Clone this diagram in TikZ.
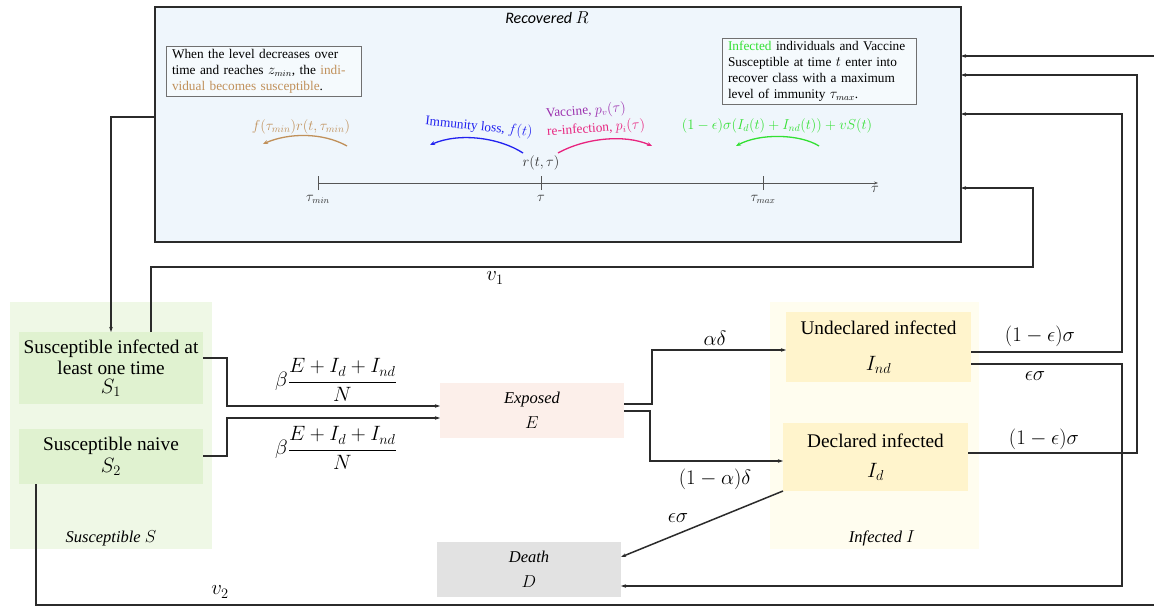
\documentclass[tikz,border=0pt]{standalone}
\usepackage{fontspec}
\setmainfont{Liberation Serif}
\newfontfamily\calib{Carlito}
\usetikzlibrary{arrows.meta}
\definecolor{lc}{HTML}{2B2B2B}
\definecolor{rfill}{HTML}{EFF6FC}
\definecolor{sgfill}{HTML}{EFF8E6}
\definecolor{sfill}{HTML}{E0F2D0}
\definecolor{igfill}{HTML}{FFFDEF}
\definecolor{ifill}{HTML}{FFF4CC}
\definecolor{efill}{HTML}{FCEFEA}
\definecolor{dfill}{HTML}{E2E2E2}
\definecolor{tbgray}{HTML}{707070}
\definecolor{brn}{HTML}{C0905A}
\definecolor{blu}{HTML}{2222F0}
\definecolor{pur}{HTML}{9B2FAE}
\definecolor{mag}{HTML}{E8247F}
\definecolor{grn}{HTML}{33E033}
\begin{document}
\begin{tikzpicture}[x=1pt,y=-1pt,
  line/.style={draw=lc, line width=1.5},
  arr/.style={line, -{Stealth[length=5,width=3.5]}},
  carr/.style={line width=1.3, -{Stealth[length=5,width=4]}},
  blk/.style={inner sep=0, outer sep=0, draw=none, align=center},
  big/.style={font=\fontsize{19.3}{24}\selectfont},
  mth/.style={font=\fontsize{21.5}{24}\selectfont},
  ital/.style={font=\fontsize{16.5}{25}\selectfont\itshape},
  small/.style={font=\fontsize{13.3}{16}\selectfont},
  tbox/.style={draw=tbgray, line width=0.9, fill=white!40!rfill, inner xsep=6, inner ysep=3, align=left, small}
]
\useasboundingbox[fill=white] (0,0) rectangle (1154,607);

% Recovered box
\node[blk, draw=lc, line width=1.8, fill=rfill, minimum width=806, minimum height=235] (R) at (558,124.5) {};
\node[font=\fontsize{16}{18}\selectfont\calib\itshape] (Rlab) at (547,18) {Recovered $R$};
\node[tbox, text width=183] (TL) at (263.5,71.5) {When the level decreases over\\ time and reaches $z_{min}$, the \textcolor{brn}{indi-}\\ \textcolor{brn}{vidual becomes susceptible}.};
\node[tbox, text width=182] (TR) at (819,71.5) {\textcolor{grn}{Infected} individuals and Vaccine\\ Susceptible at time $t$ enter into\\ recover class with a maximum\\ level of immunity $\tau_{max}$.};

% axis
\coordinate (a0) at (318,183);
\coordinate (a1) at (541,183);
\coordinate (a2) at (763,183);
\coordinate (aend) at (878,183);
\draw[draw=lc!80, line width=0.9, -{Stealth[length=4,width=3]}] (a0) -- (aend);
\foreach \c in {a0,a1,a2}{\draw[draw=lc!80, line width=0.9] ([yshift=-7pt]\c) -- ([yshift=7pt]\c);}
\node[small, text=lc] (tmin) at (318,199) {$\tau_{min}$};
\node[small, text=lc] (tt) at (541,198) {$\tau$};
\node[small, text=lc] (tmax) at (763,199) {$\tau_{max}$};
\node[small, text=lc] (tend) at (875,189) {$\tau$};
\node[small, text=lc] (rtt) at (541,163) {$r(t,\tau)$};

% curved arrows
\draw[brn, carr] (347,146) .. controls (322,132) and (288,133) .. (263,144);
\node[small, text=brn, font=\fontsize{14}{16}\selectfont] (fl) at (301,127) {$f(\tau_{min})r(t,\tau_{min})$};
\draw[blu, carr] (523,153) .. controls (500,138) and (460,132) .. (430,145);
\node[small, text=blu, rotate=-6] (il) at (479,127) {Immunity loss, $f(t)$};
\draw[mag, carr] (558,153) .. controls (585,138) and (625,134) .. (652,146);
\node[small, text=pur, rotate=4, anchor=west, inner sep=1] (vac1) at (545,114) {Vaccine, $p_v(\tau)$};
\node[small, text=mag, rotate=4, anchor=west, inner sep=1] (vac2) at (546,132) {re-infection, $p_i(\tau)$};
\draw[grn, carr] (819,146) .. controls (800,134) and (760,133) .. (736,146);
\node[small, text=grn, font=\fontsize{14}{16}\selectfont] (gf) at (777,126) {$(1-\epsilon)\sigma(I_d(t)+I_{nd}(t))+vS(t)$};

% Susceptible group
\node[blk, fill=sgfill, minimum width=202, minimum height=247] (Sg) at (111,425.5) {};
\node[blk, fill=sfill, minimum width=184, minimum height=72, big] (S1) at (111,368) {Susceptible infected at\\[-3pt] least one time\\[-5pt] $S_1$};
\node[blk, fill=sfill, minimum width=184, minimum height=55, big] (S2) at (111,456.5) {Susceptible naive\\[-2pt] $S_2$};
\node[ital] (Sglab) at (111,538) {Susceptible $S$};

% Infected group
\node[blk, fill=igfill, minimum width=209, minimum height=247] (Ig) at (874.5,425.5) {};
\node[blk, fill=ifill, minimum width=185, minimum height=70, big] (Ind) at (878.5,347) {Undeclared infected\\[12pt] $I_{nd}$};
\node[blk, fill=ifill, minimum width=185, minimum height=68, big] (Id) at (875.5,457) {Declared infected\\[6pt] $I_d$};
\node[ital] (Iglab) at (882,538) {Infected $I$};

% Exposed, Death
\node[blk, fill=efill, minimum width=184, minimum height=55, ital] (E) at (532,410.5) {Exposed\\ $E$};
\node[blk, fill=dfill, minimum width=184, minimum height=55, ital] (D) at (529,569.5) {Death\\ $D$};

% connectors
\draw[arr] (R.west |- 0,117) -| (S1.north);
\draw[arr] (S1.north -| 151,0) |- (1033,267) |- (R.east |- 0,188);
\node[mth] (v1) at (495,278) {$v_1$};
\draw[arr] (S2.south -| 36,0) |- (1162,605) -- (1162,56) -- (R.east |- 0,56);
\node[mth] (v2) at (220,592) {$v_2$};

\draw[arr] (S1.east |- 0,358) -- (227,358) -- (227,406) -- (E.west |- 0,406);
\draw[arr] (S2.east |- 0,456) -- (227,456) -- (227,418) -- (E.west |- 0,418);
\node[mth] (b1) at (336,380) {$\beta\displaystyle\frac{E+I_d+I_{nd}}{N}$};
\node[mth] (b2) at (336,448) {$\beta\displaystyle\frac{E+I_d+I_{nd}}{N}$};

\draw[arr] (E.east |- 0,404) -- (652,404) -- (652,350) -- (Ind.west |- 0,350);
\draw[arr] (E.east |- 0,411) -- (650,411) -- (650,461) -- (Id.west |- 0,461);
\node[mth] (ad) at (715,338) {$\alpha\delta$};
\node[mth] (oad) at (715,479) {$(1-\alpha)\delta$};

\draw[arr] (Id.south west) -- (D.east |- 0,557);
\node[mth] (es1) at (678,518) {$\epsilon\sigma$};

\draw[arr] (Ind.east |- 0,364) -- (1122,364) -- (1122,586) -- (D.east |- 0,586);
\node[mth] (es2) at (1035,376) {$\epsilon\sigma$};
\draw[arr] (Ind.east |- 0,352) -- (1122,352) -- (1122,114) -- (R.east |- 0,114);
\node[mth] (oes1) at (1040,336) {$(1-\epsilon)\sigma$};
\draw[arr] (Id.east |- 0,453) -- (1137,453) -- (1137,75) -- (R.east |- 0,75);
\node[mth] (oes2) at (1044,439) {$(1-\epsilon)\sigma$};
\end{tikzpicture}
\end{document}
